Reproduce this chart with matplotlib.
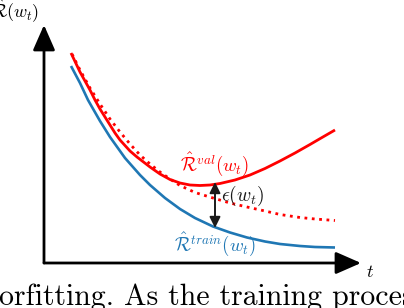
import matplotlib
matplotlib.use("Agg")
import matplotlib.pyplot as plt

plt.rcParams['mathtext.fontset'] = 'cm'

# curve points (x to the right, y downward, in px)
val_x = [71, 80, 90, 95, 100, 110, 115, 120, 130, 137, 150, 160, 170, 180,
         190, 200, 210, 220, 235, 250, 265, 280, 295, 310, 322, 335]
val_y = [53, 72, 90, 100, 109, 125, 133, 140, 151, 157, 167, 174, 179.5, 183,
         185, 185.5, 185, 183.5, 180, 175, 168.5, 161, 153, 144.5, 137.5, 130]

train_x = [71, 80, 88, 100, 110, 125, 140, 150, 165, 180, 195, 213, 230,
           247, 265, 280, 300, 315, 335]
train_y = [66, 83, 100, 121, 137, 158, 175, 185, 198, 209, 218, 226.5, 232.5,
           237.5, 241.5, 244, 246, 247, 247.5]

val_ideal_x = [72, 80, 90, 100, 110, 120, 130, 140, 150, 160, 170, 180, 195,
               213, 230, 247, 265, 280, 300, 315, 335]
val_ideal_y = [54, 70, 88, 104, 119, 132, 144, 155, 164, 172, 179, 185.5, 192.5,
               198, 203, 207, 211, 214.5, 217.5, 219, 220.5]

gap_t = 215
gap_top, gap_bottom = 182, 228

origin = (44, 263)
y_tip = 25
x_tip = 361

RED = '#ff0000'
BLUE = '#1f77b4'


def main():
    fig = plt.figure(figsize=(4.04, 3.08), dpi=100)
    ax = fig.add_axes([0, 0, 1, 1])
    ax.set_xlim(0, 404)
    ax.set_ylim(308, 0)
    ax.axis('off')

    # axes arrows
    head = '-|>,head_length=1.55,head_width=0.68'
    ax.annotate('', xy=(origin[0], y_tip), xytext=origin,
                arrowprops=dict(arrowstyle=head, lw=2, color='k',
                                mutation_scale=10, shrinkA=0, shrinkB=0))
    ax.annotate('', xy=(x_tip, origin[1]), xytext=origin,
                arrowprops=dict(arrowstyle=head, lw=2, color='k',
                                mutation_scale=10, shrinkA=0, shrinkB=0))

    ax.plot(train_x, train_y, color=BLUE, lw=1.9, solid_capstyle='butt')
    ax.plot(val_ideal_x, val_ideal_y, color=RED, lw=2.0, ls=':')
    ax.plot(val_x, val_y, color=RED, lw=2.0, solid_capstyle='butt')

    ax.annotate('', xy=(gap_t, gap_top), xytext=(gap_t, gap_bottom),
                arrowprops=dict(arrowstyle='<|-|>,head_length=0.65,head_width=0.32',
                                lw=1.4, color='#1a1a1a', mutation_scale=10,
                                shrinkA=0, shrinkB=0))

    ax.text(221, 196, r'$\epsilon(w_t)$', fontsize=14, color='#1a1a1a',
            ha='left', va='center')
    ax.text(215, 164, r'$\hat{\mathcal{R}}^{val}(w_t)$', fontsize=13.5,
            color=RED, ha='center', va='center')
    ax.text(215, 244, r'$\hat{\mathcal{R}}^{train}(w_t)$', fontsize=13.5,
            color=BLUE, ha='center', va='center')
    ax.text(39, 11, r'$\hat{\mathcal{R}}(w_t)$', fontsize=13,
            ha='right', va='center')
    ax.text(370, 272, r'$t$', fontsize=13, ha='center', va='center')

    ax.text(-1, 305, 'orfitting. As the training process', fontsize=21.5,
            family='cmr10', ha='left', va='baseline')

    fig.savefig('out.png', dpi=100)


if __name__ == '__main__':
    main()
